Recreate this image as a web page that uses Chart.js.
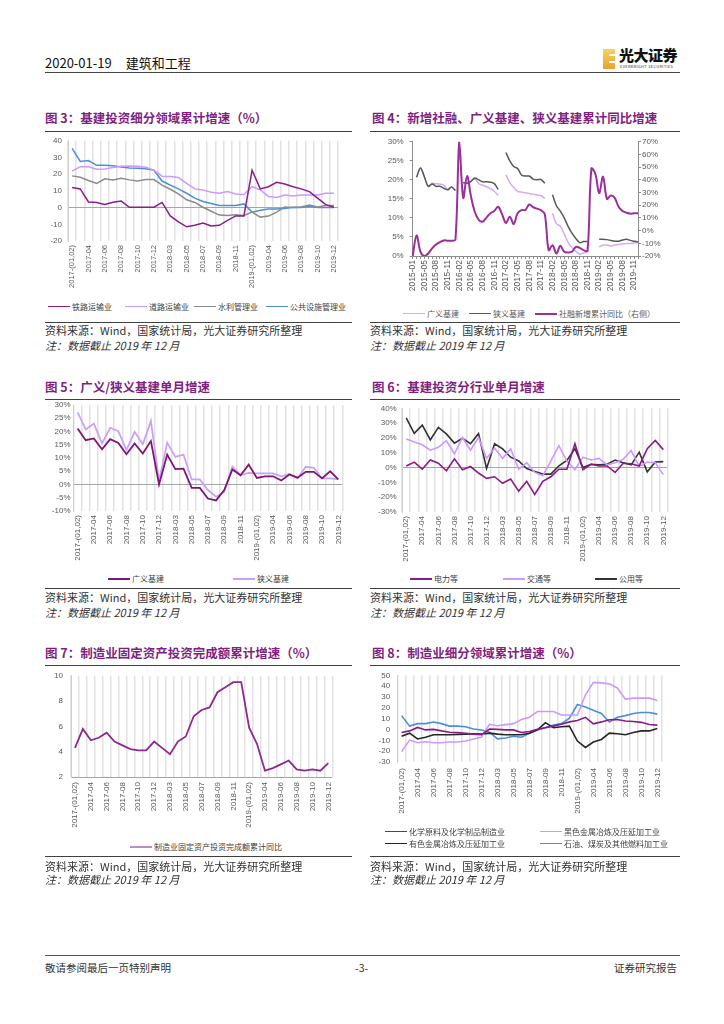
<!DOCTYPE html>
<html>
<head>
<meta charset="utf-8">
<title>建筑和工程</title>
<script src="https://cdn.jsdelivr.net/npm/chart.js@4.4.1/dist/chart.umd.min.js"></script>
<style>
  body { margin: 0; background: #fff; }
  #page { position: relative; width: 724px; height: 1024px; overflow: hidden; font-family: "Noto Sans CJK SC", sans-serif; color: #222; }
  .abs { position: absolute; white-space: nowrap; }
  .rule { position: absolute; height: 0; border-top: 1px solid #404040; }
  .title { position: absolute; font-size: 12.5px; font-weight: bold; color: #801f80; white-space: nowrap; line-height: 14px; }
  .src { position: absolute; font-size: 11px; color: #333; white-space: nowrap; line-height: 13px; }
  .note { font-style: italic; }
  .leg { position: absolute; font-size: 8px; color: #404040; white-space: nowrap; line-height: 10px; padding-left: 24px; }
  .leg i { position: absolute; left: 0; top: 4px; width: 22px; height: 0; border-top: 1.5px solid; }
  canvas { position: absolute; }
</style>
</head>
<body>
<div id="page">

  <!-- header -->
  <div class="abs" style="left:45px;top:55px;font-size:13px;line-height:16px;color:#111;">2020-01-19<span style="margin-left:14px">建筑和工程</span></div>
  <div class="abs" style="left:603px;top:49px;width:12px;height:20px;background:linear-gradient(#f7d262,#e6a232);"></div>
  <div class="abs" style="left:609px;top:54px;width:6px;height:2px;background:#fff;"></div>
  <div class="abs" style="left:609px;top:61px;width:6px;height:2px;background:#fff;"></div>
  <div class="abs" style="left:619px;top:46px;font-size:15px;font-weight:900;line-height:18px;color:#111;letter-spacing:-0.5px;">光大证券</div>
  <div class="abs" style="left:620px;top:64px;font-size:4px;line-height:5px;color:#333;letter-spacing:0.3px;">EVERBRIGHT SECURITIES</div>
  <div class="rule" style="left:45px;top:72px;width:635px;border-top:1.5px solid #444;"></div>

  <!-- row 1 -->
  <div class="title" style="left:45px;top:111px;">图 3：基建投资细分领域累计增速（%）</div>
  <div class="title" style="left:372px;top:111px;">图 4：新增社融、广义基建、狭义基建累计同比增速</div>
  <div class="rule" style="left:45px;top:131px;width:307px;"></div>
  <div class="rule" style="left:370px;top:131px;width:310px;"></div>
  <canvas id="c3" width="307" height="161" style="left:40px;top:130px;"></canvas>
  <canvas id="c4" width="286" height="167" style="left:380px;top:131px;"></canvas>
  <div class="leg" style="left:48px;top:302px;"><i style="border-color:#8b1c8b"></i>铁路运输业</div>
  <div class="leg" style="left:125px;top:302px;"><i style="border-color:#cc99ff"></i>道路运输业</div>
  <div class="leg" style="left:194px;top:302px;"><i style="border-color:#8c8c8c"></i>水利管理业</div>
  <div class="leg" style="left:266px;top:302px;"><i style="border-color:#4a8fd8"></i>公共设施管理业</div>
  <div class="leg" style="left:403px;top:309px;color:#595959;"><i style="border-color:#d4aafa"></i>广义基建</div>
  <div class="leg" style="left:469px;top:309px;color:#595959;"><i style="border-color:#595959"></i>狭义基建</div>
  <div class="leg" style="left:535px;top:309px;color:#595959;"><i style="border-color:#9b2f9b;border-top-width:2px"></i>社融新增累计同比（右侧）</div>
  <div class="rule" style="left:45px;top:322px;width:307px;"></div>
  <div class="rule" style="left:370px;top:322px;width:310px;"></div>
  <div class="src" style="left:45px;top:324px;">资料来源：Wind，国家统计局，光大证券研究所整理</div>
  <div class="src" style="left:370px;top:324px;">资料来源：Wind，国家统计局，光大证券研究所整理</div>
  <div class="src note" style="left:45px;top:339px;">注：数据截止 2019 年 12 月</div>
  <div class="src note" style="left:370px;top:339px;">注：数据截止 2019 年 12 月</div>

  <!-- row 2 -->
  <div class="title" style="left:45px;top:380px;">图 5：广义/狭义基建单月增速</div>
  <div class="title" style="left:372px;top:380px;">图 6：基建投资分行业单月增速</div>
  <div class="rule" style="left:45px;top:399px;width:307px;"></div>
  <div class="rule" style="left:370px;top:399px;width:310px;"></div>
  <canvas id="c5" width="312" height="172" style="left:40px;top:397px;"></canvas>
  <canvas id="c6" width="312" height="172" style="left:365px;top:398px;"></canvas>
  <div class="leg" style="left:108px;top:574px;"><i style="border-color:#7e1773;border-top-width:2px"></i>广义基建</div>
  <div class="leg" style="left:233px;top:574px;"><i style="border-color:#c9a2f5;border-top-width:2px"></i>狭义基建</div>
  <div class="leg" style="left:410px;top:574px;"><i style="border-color:#8b1a89;border-top-width:2px"></i>电力等</div>
  <div class="leg" style="left:503px;top:574px;"><i style="border-color:#cc99ff;border-top-width:2px"></i>交通等</div>
  <div class="leg" style="left:595px;top:574px;"><i style="border-color:#333;border-top-width:2px"></i>公用等</div>
  <div class="rule" style="left:45px;top:588px;width:307px;"></div>
  <div class="rule" style="left:370px;top:588px;width:310px;"></div>
  <div class="src" style="left:45px;top:591px;">资料来源：Wind，国家统计局，光大证券研究所整理</div>
  <div class="src" style="left:370px;top:591px;">资料来源：Wind，国家统计局，光大证券研究所整理</div>
  <div class="src note" style="left:45px;top:606px;">注：数据截止 2019 年 12 月</div>
  <div class="src note" style="left:370px;top:606px;">注：数据截止 2019 年 12 月</div>

  <!-- row 3 -->
  <div class="title" style="left:45px;top:646px;">图 7：制造业固定资产投资完成额累计增速（%）</div>
  <div class="title" style="left:372px;top:646px;">图 8：制造业细分领域累计增速（%）</div>
  <div class="rule" style="left:45px;top:665px;width:307px;"></div>
  <div class="rule" style="left:370px;top:665px;width:310px;"></div>
  <canvas id="c7" width="303" height="169" style="left:40px;top:663px;"></canvas>
  <canvas id="c8" width="308" height="154" style="left:365px;top:663px;"></canvas>
  <div class="leg" style="left:130px;top:842px;"><i style="border-color:#c48ac4;border-top-width:2px"></i>制造业固定资产投资完成额累计同比</div>
  <div class="leg" style="left:385px;top:827px;"><i style="border-color:#8b1a89"></i>化学原料及化学制品制造业</div>
  <div class="leg" style="left:540px;top:827px;"><i style="border-color:#cc99ff"></i>黑色金属冶炼及压延加工业</div>
  <div class="leg" style="left:385px;top:839px;"><i style="border-color:#262626"></i>有色金属冶炼及压延加工业</div>
  <div class="leg" style="left:540px;top:839px;"><i style="border-color:#4a8fd8"></i>石油、煤炭及其他燃料加工业</div>
  <div class="rule" style="left:45px;top:856px;width:307px;"></div>
  <div class="rule" style="left:370px;top:856px;width:310px;"></div>
  <div class="src" style="left:45px;top:860px;">资料来源：Wind，国家统计局，光大证券研究所整理</div>
  <div class="src" style="left:370px;top:860px;">资料来源：Wind，国家统计局，光大证券研究所整理</div>
  <div class="src note" style="left:45px;top:873px;">注：数据截止 2019 年 12 月</div>
  <div class="src note" style="left:370px;top:873px;">注：数据截止 2019 年 12 月</div>

  <!-- footer -->
  <div class="rule" style="left:45px;top:955px;width:635px;border-top:1.5px solid #555;"></div>
  <div class="src" style="left:45px;top:961px;font-size:10.5px;">敬请参阅最后一页特别声明</div>
  <div class="src" style="left:355px;top:961px;font-size:10.5px;">-3-</div>
  <div class="src" style="left:614px;top:961px;font-size:10.5px;">证券研究报告</div>
</div>

<script>
// categories
const months = ['2017-(01,02)', '2017-03', '2017-04', '2017-05', '2017-06', '2017-07', '2017-08', '2017-09', '2017-10', '2017-11', '2017-12',
    '2018-(01,02)', '2018-03', '2018-04', '2018-05', '2018-06', '2018-07', '2018-08', '2018-09', '2018-10', '2018-11', '2018-12',
    '2019-(01,02)', '2019-03', '2019-04', '2019-05', '2019-06', '2019-07', '2019-08', '2019-09', '2019-10', '2019-11', '2019-12'];

const sfMonths = ['2015-01', '2015-03', '2015-04', '2015-05', '2015-06', '2015-07', '2015-08', '2015-09', '2015-10', '2015-11', '2015-12',
    '2016-01', '2016-02', '2016-03', '2016-04', '2016-05', '2016-06', '2016-07', '2016-08', '2016-09', '2016-10', '2016-11', '2016-12',
    '2017-01', '2017-02', '2017-03', '2017-04', '2017-05', '2017-06', '2017-07', '2017-08', '2017-09', '2017-10', '2017-11', '2017-12',
    '2018-01', '2018-02', '2018-03', '2018-04', '2018-05', '2018-06', '2018-07', '2018-08', '2018-09', '2018-10', '2018-11', '2018-12',
    '2019-01', '2019-02', '2019-03', '2019-04', '2019-05', '2019-06', '2019-07', '2019-08', '2019-09', '2019-10', '2019-11', '2019-12'];

// 图3 基建投资细分领域累计增速
const railway = [12, 11.2, 3.4, 3, 1.8, 3.2, 3.9, 0.2, 0.2, 0.2, 0.2, 3.1, -5, -8.6, -11.5, -10.6, -9.2, -11, -10.6, -7.6, -5, -5,
    22.4, 11.2, 12.5, 15.1, 14.1, 12.5, 11.2, 9.6, 5.7, 1.8, 0.2];
const road = [21.8, 24.5, 24.5, 23, 23.1, 24, 24.7, 24.9, 24.7, 24.1, 22.4, 18.8, 18.6, 18, 14.5, 11.2, 10.6, 9.2, 8.6, 9.6, 8.2, 7.8,
    12.5, 10.6, 6.7, 6.1, 7.6, 7, 7.6, 7.6, 7.6, 8.6, 8.6];
const water = [19, 18.2, 16.2, 14.5, 17.2, 16.6, 17.5, 16.6, 16, 16.8, 16.8, 13.5, 11, 8.2, 4.7, 3.1, 0.2, -2.2, -4.5, -4.7, -4.3, -4.7,
    -2.7, -5.7, -5.1, -2.7, 0.4, 0, 0.4, 1.6, 0.4, 1.2, 1.2];
const publicFac = [35.5, 27.6, 28.2, 25.3, 25.3, 25.1, 24.3, 23.7, 23.5, 23.3, 22.4, 15.9, 13.5, 11.2, 8.6, 5.7, 3.7, 2.4, 1.2, 1.2, 1.2, 2.2,
    -2.7, -1.6, -0.8, -0.8, -0.6, 0.2, 0, 0.8, 0, 0, 0];

// 图4 社融 / 广义 / 狭义基建累计同比
const sfGrowth = [-20, -3.8, -16.7, -20, -18, -14, -11, -9, -7.7, -8, -8,
    -7, 70, 25.8, 43, 27, 14.7, 8.5, 7, 10.3, 13.7, 15.5, 18.8, 13,
    6, 11, 5.2, 13.7, 16.2, 16.2, 20.6, 18.6, 17.3, 16.2, 13,
    -15.4, -11.5, -18, -12, -16.7, -17.2, -16.7, -12.8, -13.6, -15.4, -15.9,
    48.9, 45, 29.6, 42.5, 25, 27.6, 25.8, 18.8, 15.5, 14.2, 13.4, 13.7, 13.7];
const narrowInfra = [null, 20.7, 23.1, 20.8, 18.3, 18.9, 18.3, 18.3, 17.8, 17.4, 18.1, 17.2,
    null, 19.3, 19.1, 19.6, 20.5, 20, 19.5, 19.5, 19.4, 19, 17.5, null,
    27.2, 25, 23.5, 23, 21.3, 21, 21, 20.2, 20, 20.1, 19.1, null,
    16.1, 13.2, 11.8, 10, 7.8, 6, 4.6, 3.5, 3.8, 3.8, null, null,
    4.4, 4.4, 4.3, 4.1, 3.9, 3.9, 4.2, 4.4, 4.1, 3.9, 3.7];
const broadInfra = [null, 20.7, 23.1, 20.8, 18.3, 19.1, 19, 18.9, 18.6, 17.5, 18.1, 17.2,
    null, 19.3, 19.1, 19.6, 20.3, 19, 18.6, 18.2, 17.7, 17, 15.9, null,
    21.3, 19.3, 18, 17, 16.8, 16.6, 16.4, 16.2, 16, 15.9, 15.1, null,
    11.2, 8.5, 7.8, 5.8, 3.6, 2.2, 1.2, 0.5, 0.8, 1.1, null, null,
    2.4, 2.8, 2.9, 2.6, 2.9, 3, 3.2, 3.3, 3.3, 3.4, 3.5];

// 图5 广义/狭义基建单月增速
const broadMonthly = [21.1, 16.7, 17.4, 13.3, 17.1, 15.7, 11.4, 15.5, 11.7, 16.4, 0, 11.3, 5.8, 6, -1.3, -1.3, -5.3, -6, -2.1, 5.7, 3.5, 7.5,
    2.5, 3.1, 3.1, 1.5, 3.8, 2.6, 4.8, 4.8, 2.3, 5, 1.9];
const narrowMonthly = [27.2, 20.8, 23, 15.5, 21.4, 20.1, 13, 19.9, 15.2, 23.9, 1.3, 15.8, 10.4, 11.3, 1.9, 1.9, -2.1, -4.6, -2.8, 6.7, 3.5, 4.4,
    4.2, 4.2, 4.2, 3.1, 4, 2.3, 6.7, 6.3, 2.3, 2.3, 1.9];

// 图6 基建投资分行业单月增速
const powerMonthly = [1.1, 3.7, -1.1, 5.1, 2.9, -2.2, 5.9, -1.5, 0.7, -3.7, -7.3, -6.2, -10.6, -7.7, -15.9, -9.3, -18.1, -9.3, -6.2, -1.1, -1.1, 16.1,
    -1.5, 2.2, 1.1, 1.1, -3.3, 2.9, 2.6, 1.1, 12.8, 18.3, 12.1];
const transportMonthly = [19.2, 17.2, 15.4, 11.7, 13.7, 18.1, 9.3, 20.3, 11.7, 20.3, 6.2, 13.2, 6.2, 12.6, -1.1, 3.3, -3.3, -5.5, 4.4, 14.8, 4.4, -1.5,
    7, 5.1, 6.2, 1.8, 3.3, 5.5, 11.5, 0.7, 3.7, 3.3, -4.8];
const utilityMonthly = [33.5, 23.1, 28.6, 18.7, 27.1, 22.7, 16.5, 19.8, 16.1, 22.9, -0.7, 16.1, 12.6, 7, 4.4, -0.7, -2.6, -4.4, -4.4, 1.1, 4.8, 12.8,
    0, 2.2, 1.8, 2.2, 5.1, 3.3, 1.8, 10.4, -2.9, 3.7, 4];

// 图7 制造业固定资产投资完成额累计同比
const mfgFai = [4.3, 5.8, 4.9, 5.1, 5.5, 4.8, 4.5, 4.2, 4.1, 4.1, 4.8, 4.3, 3.8, 4.8, 5.2, 6.8, 7.3, 7.5, 8.7, 9.1, 9.5, 9.5,
    5.9, 4.6, 2.5, 2.7, 3.0, 3.3, 2.6, 2.5, 2.6, 2.5, 3.1];

// 图8 制造业细分领域累计增速
const chemical = [-2.8, -1.3, 1.9, -0.4, 0.1, -1.3, -2.5, -2.8, -3.4, -4.3, -4.8, 0.4, 0.1, -0.4, -0.4, -2.8, -1.9, 0.1, 1.6, 3.1, 4.8, 7,
    8.3, 11.2, 5.2, 7, 9, 9.2, 7.8, 7.4, 6.6, 4.6, 4];
const ferrous = [-20.4, -9.8, -12.2, -11.3, -12.2, -12.2, -11.6, -11.6, -10.7, -8.7, -6.9, 4.8, 3.4, 4.5, 5.4, 9.2, 11.3, 16.6, 16.6, 16.6, 13.3, 13.3,
    13.3, 31.8, 43.5, 43, 42.1, 38.3, 28, 28.9, 28.9, 28.9, 26.8];
const nonferrous = [-6.3, -3.4, -8.7, -7.2, -4.8, -4.8, -4.8, -4.5, -4.3, -4, -4.3, -3.4, -4.3, -4.8, -4.8, -4.8, -3.4, -0.4, 6.3, 1.6, 2.5, 3.1,
    -10.7, -16.6, -11.6, -9.2, -3.4, -4, -4.8, -2.8, -1.3, -1.3, 1];
const petroleum = [12.8, 3.1, 5.4, 5.4, 6.9, 5.4, 3.1, 3.1, 2.5, 0.4, -0.4, -2.5, -8.7, -7.8, -6.3, -7.2, -3.4, -0.4, 1.9, 4, 5.4, 10.4,
    23, 20.7, 17.7, 14.8, 6.9, 11.3, 12.8, 14.8, 15.7, 15.7, 14.2];

Chart.defaults.font.family = '"Liberation Sans", Arial, sans-serif';
Chart.defaults.font.size = 8;
Chart.defaults.color = '#595959';

const pct = v => v + '%';

function line(label, data, color, width, axisId, tension) {
    return {
        label: label,
        data: data,
        borderColor: color,
        backgroundColor: color,
        borderWidth: width || 1.5,
        pointRadius: 0,
        tension: tension || 0,
        fill: false,
        yAxisID: axisId || 'y'
    };
}

// month axis shared by charts 3,5,6,7,8 (label every second month)
function monthAxis(height, pad, fontSize) {
    return {
        offset: true,
        grid: { offset: true, color: '#e2e2e2', lineWidth: 1.5, drawTicks: false },
        border: { display: false },
        ticks: {
            autoSkip: false, minRotation: 90, maxRotation: 90, padding: pad,
            font: { size: fontSize || 8 },
            callback: (v, i) => i % 2 === 0 ? months[i] : ''
        },
        afterFit: s => { s.height = height; }
    };
}

function valueAxis(min, max, step, width, pad, fmt, lineAt) {
    return {
        min: min, max: max,
        ticks: { stepSize: step, padding: pad, autoSkip: false, callback: fmt || (v => v) },
        grid: {
            drawTicks: false,
            color: c => c.tick.value === lineAt ? '#a6a6a6' : 'rgba(0,0,0,0)'
        },
        border: { display: true, color: '#d0d0d0' },
        afterFit: s => { s.width = width; }
    };
}

function makeChart(id, labels, datasets, scales, padRight) {
    return new Chart(document.getElementById(id), {
        type: 'line',
        data: { labels: labels, datasets: datasets },
        options: {
            responsive: false,
            animation: false,
            layout: { padding: { top: 8, right: padRight, left: 0, bottom: 0 } },
            plugins: { legend: { display: false }, tooltip: { enabled: false } },
            scales: scales
        }
    });
}

// 图3
makeChart('c3', months, [
    line('铁路运输业', railway, '#8b1c8b'),
    line('道路运输业', road, '#cc99ff'),
    line('水利管理业', water, '#8c8c8c'),
    line('公共设施管理业', publicFac, '#4a8fd8')
], {
    x: monthAxis(50, 4, 7.5),
    y: valueAxis(-20, 40, 10, 28, 6, null, 0)
}, 6);

// 图4
const axisGray = '#8c8c8c';
makeChart('c4', sfMonths, [
    line('社融新增累计同比（右侧）', sfGrowth, '#9b2f9b', 2, 'y1', 0.35),
    line('狭义基建', narrowInfra, '#595959', 1.5, 'y', 0.35),
    line('广义基建', broadInfra, '#d4aafa', 1.5, 'y', 0.35)
], {
    x: {
        offset: false,
        grid: { drawOnChartArea: false, drawTicks: true, tickLength: 3, tickColor: axisGray },
        border: { display: true, color: axisGray },
        ticks: {
            autoSkip: false, minRotation: 90, maxRotation: 90, padding: 1,
            font: { size: 8.5 },
            callback: (v, i) => i % 3 === 0 ? sfMonths[i] : ''
        },
        afterFit: s => { s.height = 42; }
    },
    y: {
        position: 'left', min: 0, max: 30,
        ticks: { stepSize: 5, padding: 6, autoSkip: false, callback: pct },
        grid: { drawOnChartArea: false, drawTicks: true, tickLength: 3, tickColor: axisGray },
        border: { display: true, color: axisGray },
        afterFit: s => { s.width = 32.7; }
    },
    y1: {
        position: 'right', min: -20, max: 70,
        ticks: { stepSize: 10, padding: 1, autoSkip: false, callback: pct },
        grid: { drawOnChartArea: false, drawTicks: true, tickLength: 3, tickColor: axisGray },
        border: { display: true, color: axisGray },
        afterFit: s => { s.width = 28; }
    }
}, 0);

// 图5
makeChart('c5', months, [
    line('广义基建', broadMonthly, '#7e1773', 1.8),
    line('狭义基建', narrowMonthly, '#c9a2f5', 1.8)
], {
    x: monthAxis(58, 4, 8),
    y: valueAxis(-10, 30, 5, 33.5, 3, pct, 0)
}, 6);

// 图6
makeChart('c6', months, [
    line('电力等', powerMonthly, '#8b1a89', 1.6),
    line('交通等', transportMonthly, '#cc99ff', 1.6),
    line('公用等', utilityMonthly, '#333333', 1.6)
], {
    x: monthAxis(58, 4, 8),
    y: valueAxis(-30, 40, 10, 37.2, 5.5, pct, 0)
}, 6);

// 图7
makeChart('c7', months, [
    line('制造业固定资产投资完成额累计同比', mfgFai, '#8e2a8e', 1.8)
], {
    x: monthAxis(55, 5, 8),
    y: valueAxis(2, 10, 2, 31, 8, null, 2)
}, 6);

// 图8
makeChart('c8', months, [
    line('化学原料及化学制品制造业', chemical, '#8b1a89', 1.6),
    line('黑色金属冶炼及压延加工业', ferrous, '#cc99ff', 1.6),
    line('有色金属冶炼及压延加工业', nonferrous, '#262626', 1.6),
    line('石油、煤炭及其他燃料加工业', petroleum, '#4a8fd8', 1.6)
], {
    x: monthAxis(55, 6, 8),
    y: valueAxis(-30, 50, 10, 32.6, 7.5, null, null)
}, 6);
</script>
</body>
</html>
